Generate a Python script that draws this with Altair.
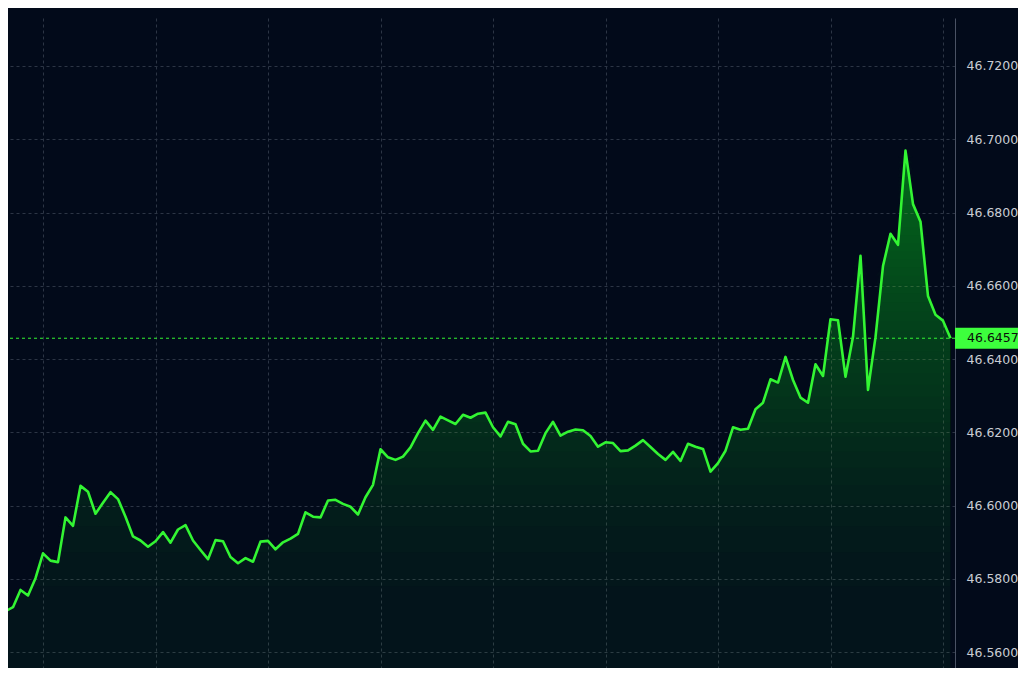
import altair as alt
import numpy as np
import pandas as pd

# Price series (one value per time step)
prices = [
    46.5710, 46.5712, 46.5723, 46.5770, 46.5755, 46.5802, 46.5870, 46.5850,
    46.5846, 46.5968, 46.5945, 46.6054, 46.6038, 46.5978, 46.6008, 46.6037,
    46.6018, 46.5970, 46.5916, 46.5905, 46.5888, 46.5903, 46.5928, 46.5899,
    46.5935, 46.5947, 46.5905, 46.5879, 46.5854, 46.5906, 46.5903, 46.5860,
    46.5843, 46.5857, 46.5847, 46.5902, 46.5904, 46.5881, 46.5900, 46.5910,
    46.5923, 46.5982, 46.5970, 46.5968, 46.6014, 46.6016, 46.6005, 46.5997,
    46.5976, 46.6023, 46.6057, 46.6154, 46.6132, 46.6125, 46.6134, 46.6159,
    46.6198, 46.6232, 46.6207, 46.6243, 46.6233, 46.6223, 46.6248, 46.6240,
    46.6251, 46.6254, 46.6214, 46.6189, 46.6229, 46.6222, 46.6169, 46.6148,
    46.6150, 46.6198, 46.6229, 46.6191, 46.6202, 46.6208, 46.6206, 46.6190,
    46.6161, 46.6173, 46.6171, 46.6149, 46.6151, 46.6164, 46.6179, 46.6160,
    46.6141, 46.6125, 46.6147, 46.6122, 46.6169, 46.6161, 46.6155, 46.6093,
    46.6116, 46.6150, 46.6214, 46.6207, 46.6210, 46.6263, 46.6281, 46.6345,
    46.6336, 46.6406, 46.6343, 46.6295, 46.6281, 46.6386, 46.6354, 46.6509,
    46.6506, 46.6352, 46.6461, 46.6682, 46.6316, 46.6460, 46.6654, 46.6742,
    46.6712, 46.6969, 46.6823, 46.6775, 46.6572, 46.6521, 46.6505, 46.6457,
]
steps = list(range(len(prices)))
last_price = 46.6457
last_label = "46.6457"

y_ticks = [46.56, 46.58, 46.60, 46.62, 46.64, 46.66, 46.68, 46.70, 46.72]
x_grid = [6, 21, 36, 51, 66, 81, 96, 111, 126]

Y_MIN, Y_MAX = 46.5557, 46.7331

df = pd.DataFrame({"step": steps, "price": prices})

BG = "#020a1a"
GREEN = "#33f533"
FILL = "#2ce02c"
GRID = "#2c3545"

x_enc = alt.X(
    "step:Q",
    scale=alt.Scale(domain=[1.333, 127.6], nice=False, zero=False),
    axis=alt.Axis(values=x_grid, labels=False, ticks=False, domain=False,
                  grid=True, gridColor=GRID, gridDash=[3, 3], gridWidth=1,
                  title=None),
)
y_scale = alt.Scale(domain=[Y_MIN, Y_MAX], nice=False, zero=False)
y_enc = alt.Y(
    "price:Q",
    scale=y_scale,
    axis=alt.Axis(orient="right", values=y_ticks, format=".4f", title=None,
                  grid=True, gridColor=GRID, gridDash=[3, 3], gridWidth=1,
                  ticks=False, domain=True, domainColor="#4a5264",
                  labelColor="#c9cdd4", labelFontSize=12.5,
                  labelFont="DejaVu Sans", labelPadding=11,
                  labelAlign="left", labelBaseline="middle"),
)

base = alt.Chart(df)

# faint base fill under the whole line
area_base = base.mark_area(clip=True, color=FILL, opacity=0.035).encode(
    x=x_enc, y=y_enc, y2=alt.datum(Y_MIN)
)

# vertical fade (stronger toward the top of the filled region)
N_FADE = 40
top_val = max(prices)
fade_layers = []
for k in range(N_FADE):
    lev = round(Y_MIN + (top_val - Y_MIN) * float(np.sqrt(k / N_FADE)), 6)
    fade_layers.append(
        base.transform_calculate(top=f"max(datum.price, {lev})")
        .mark_area(clip=True, color=FILL, opacity=0.02)
        .encode(x="step:Q", y=alt.Y("top:Q"), y2=alt.datum(lev))
    )

line = base.mark_line(clip=True, color=GREEN, strokeWidth=2.6,
                      strokeJoin="round").encode(x="step:Q", y="price:Q")

price_line = alt.Chart(pd.DataFrame({"p": [last_price]})).mark_rule(
    color=GREEN, strokeWidth=1, strokeDash=[3, 3]
).encode(y=alt.Y("p:Q"))

label_box = alt.Chart(pd.DataFrame({"p": [last_price]})).mark_rect(
    color="#3dff3d", yOffset=-10.5, y2Offset=10.5
).encode(
    y=alt.Y("p:Q"), y2=alt.Y2("p:Q"),
    x=alt.value(947), x2=alt.value(1010),
)

label_text = alt.Chart(pd.DataFrame({"p": [last_price], "t": [last_label]})).mark_text(
    align="left", baseline="middle", font="DejaVu Sans", fontSize=12.5,
    color="#0a0f0a"
).encode(y=alt.Y("p:Q"), x=alt.value(959), text="t:N")

chart = alt.layer(area_base, *fade_layers, line, price_line, label_box,
                  label_text).properties(
    width=947, height=650,
    padding={"left": 0, "top": 10, "right": 63, "bottom": 0},
    autosize=alt.AutoSizeParams(type="none"),
    background=BG,
).configure_view(stroke=None)

chart.save("out.html", embed_options={"renderer": "svg", "actions": False})
